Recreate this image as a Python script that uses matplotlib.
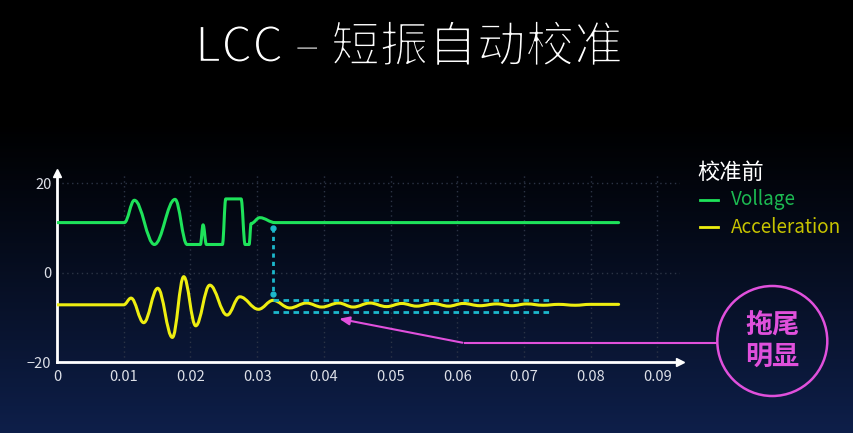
import matplotlib
matplotlib.use('Agg')
import matplotlib.pyplot as plt
import numpy as np
from matplotlib.path import Path
from matplotlib.patches import PathPatch, Circle
from matplotlib.lines import Line2D
import matplotlib.patheffects as pe

plt.rcParams['font.family'] = ['Noto Sans CJK SC', 'DejaVu Sans']

# data (extrema / corner points)
volt_t = [0, 0.0101, 0.0116, 0.0146, 0.0177, 0.0195, 0.0215, 0.0219, 0.0224, 0.0248,
          0.0253, 0.0276, 0.0282, 0.0288, 0.0291, 0.0304, 0.0327, 0.0842]
volt_v = [11.2, 11.2, 16.2, 6.3, 16.4, 6.3, 6.3, 10.7, 6.3, 6.3,
          16.5, 16.5, 6.3, 6.3, 11.0, 12.3, 11.2, 11.2]

acc_t = [0, 0.0100, 0.0111, 0.0130, 0.0151, 0.0173, 0.0190, 0.0208, 0.0229, 0.0255,
         0.0274, 0.0302, 0.0324, 0.0349, 0.0374, 0.0397, 0.0422, 0.0444, 0.0469,
         0.0494, 0.0517, 0.0539, 0.0564, 0.0587, 0.0609, 0.0634, 0.0659, 0.0682,
         0.0704, 0.0729, 0.0752, 0.0777, 0.0799, 0.0842]
acc_v = [-7.2, -7.2, -5.7, -11.2, -3.5, -14.5, -0.9, -11.9, -2.8, -9.5,
         -5.4, -8.2, -6.2, -7.9, -6.8, -7.7, -6.8, -7.7, -6.8,
         -7.6, -6.9, -7.5, -6.9, -7.5, -6.9, -7.4, -7.0, -7.4,
         -7.0, -7.3, -7.1, -7.3, -7.1, -7.1]

xticks = [0, 0.01, 0.02, 0.03, 0.04, 0.05, 0.06, 0.07, 0.08, 0.09]
xlabels = ['0', '0.01', '0.02', '0.03', '0.04', '0.05', '0.06', '0.07', '0.08', '0.09']
yticks = [20, 0, -20]

# settling markers
mark_x = 0.0324
mark_top = 9.9
mark_bot = -4.7
band_hi = -6.1
band_lo = -8.8
band_end = 0.0741

# callout pointer
call_x = [0.0419, 0.0612, 0.0990]
call_y = [-10.2, -15.8, -15.8]

green = '#1ee35a'
yellow = '#eeee10'
cyan = '#1cb8cc'
pink = '#e050dc'


def smooth(xs, ys, k=0.38):
    verts = [(xs[0], ys[0])]
    codes = [Path.MOVETO]
    for i in range(1, len(xs)):
        dx = xs[i] - xs[i - 1]
        verts += [(xs[i - 1] + dx * k, ys[i - 1]), (xs[i] - dx * k, ys[i]), (xs[i], ys[i])]
        codes += [Path.CURVE4] * 3
    return Path(verts, codes)


fig = plt.figure(figsize=(8.54, 4.33), dpi=100)

# background gradient
bg = fig.add_axes([0, 0, 1, 1], zorder=-10)
h = 433
g = np.clip((np.arange(h) - 120) / (h - 120), 0, 1)
top = np.array([0, 0, 0])
bot = np.array([0x0e, 0x1f, 0x4a]) / 255
img = top + (bot - top) * g[:, None] ** 1.1
bg.imshow(img[:, None, :], aspect='auto', extent=[0, 1, 0, 1])
bg.axis('off')

ax = fig.add_axes([57 / 854, (433 - 362) / 433, 623 / 854, 189 / 433])
ax.patch.set_alpha(0)
ax.set_xlim(0, 0.0934)
ax.set_ylim(-20, 22.3)

for xv in xticks[1:]:
    ax.plot([xv, xv], [-20, 22.3], color='#2c3446', lw=1, ls=(0, (1, 2.5)), zorder=1)
for yv in [20, 0]:
    ax.plot([0, 0.0934], [yv, yv], color='#2c3446', lw=1, ls=(0, (1, 2.5)), zorder=1)

ax.add_patch(PathPatch(smooth(volt_t, volt_v), fill=False, edgecolor=green, lw=2.2,
                       capstyle='round', joinstyle='round', zorder=3))
ax.add_patch(PathPatch(smooth(acc_t, acc_v), fill=False, edgecolor=yellow, lw=2.2,
                       capstyle='round', joinstyle='round', zorder=3))

ax.plot([mark_x, mark_x], [mark_top, mark_bot], color=cyan, lw=2, ls=(0, (1.5, 1.5)), zorder=4)
ax.plot([mark_x, mark_x], [mark_top, mark_bot], 'o', color=cyan, ms=3.5, zorder=4)
ax.plot([mark_x, band_end], [band_hi, band_hi], color=cyan, lw=2, ls=(0, (2, 1.6)), zorder=4)
ax.plot([mark_x, band_end], [band_lo, band_lo], color=cyan, lw=2, ls=(0, (2, 1.6)), zorder=4)

ax.plot(call_x[1:], call_y[1:], color=pink, lw=1.5, clip_on=False, zorder=4)
ax.annotate('', xy=(call_x[0], call_y[0]), xytext=(call_x[1], call_y[1]),
            arrowprops=dict(arrowstyle='-|>,head_length=0.6,head_width=0.25', color=pink, lw=1.5),
            annotation_clip=False, zorder=4)

for s in ['top', 'right']:
    ax.spines[s].set_visible(False)
for s in ['left', 'bottom']:
    ax.spines[s].set_color('white')
    ax.spines[s].set_linewidth(2)
ax.plot(0, 1, '^', color='white', ms=6, transform=ax.transAxes, clip_on=False)
ax.plot(1, 0, '>', color='white', ms=6, transform=ax.transAxes, clip_on=False)

ax.set_xticks(xticks)
ax.set_xticklabels(xlabels)
ax.set_yticks(yticks)
ax.tick_params(length=0, colors='#dde0e8', labelsize=10.5, pad=6)
ax.tick_params(axis='y', pad=4)

# thin strokes for a light-looking title
fig.text(409 / 854, 1 - 48 / 433, 'LCC – 短振自动校准', color='white', fontsize=35,
         ha='center', va='center',
         path_effects=[pe.Normal(), pe.Stroke(linewidth=1.4, foreground='black')])

# legend
fig.text(697 / 854, 1 - 172 / 433, '校准前', color='white', fontsize=16, va='center')
fig.add_artist(Line2D([700 / 854, 718 / 854], [1 - 200 / 433] * 2, color=green, lw=2))
fig.text(731 / 854, 1 - 200 / 433, 'Vollage', color='#1cba52', fontsize=13.6, va='center')
fig.add_artist(Line2D([700 / 854, 718 / 854], [1 - 227 / 433] * 2, color=yellow, lw=2))
fig.text(731 / 854, 1 - 227 / 433, 'Acceleration', color='#c8c400', fontsize=13.6, va='center')

# callout circle
fig.add_artist(Circle((7.723, 0.92), 0.55, transform=fig.dpi_scale_trans, fill=False,
                      edgecolor=pink, lw=1.8))
fig.text(772 / 854, 0.92 / 4.33, '拖尾\n明显', color=pink, fontsize=19.5, fontweight='bold',
         ha='center', va='center', linespacing=1.15)

plt.savefig('out.png', dpi=100)
